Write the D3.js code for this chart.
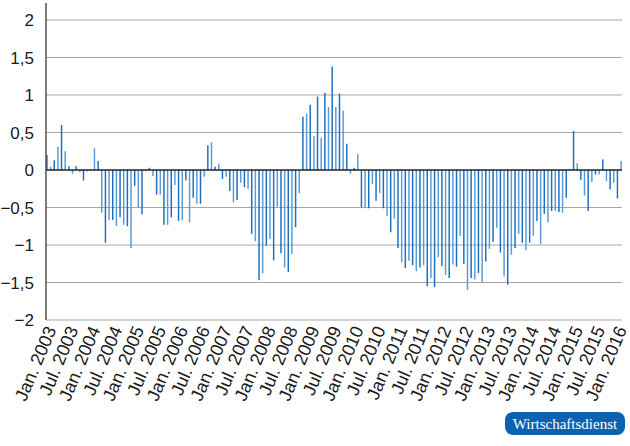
<!DOCTYPE html>
<html>
<head>
<meta charset="utf-8">
<script src="https://cdn.jsdelivr.net/npm/d3@7"></script>
<style>
  html, body { margin: 0; padding: 0; background: #fff; }
  svg { display: block; }
</style>
</head>
<body>
<svg id="chart" width="630" height="446"></svg>
<script>
// ---- data (monthly, Jan. 2003 – Feb. 2016) ----
const startMonth = new Date(2003, 0, 1);
const values = [
  // 2003
  0.20, 0.045, 0.13, 0.31, 0.60, 0.25, 0.05, -0.05, 0.05, -0.03, -0.14, -0.02,
  // 2004
  -0.01, 0.29, 0.12, -0.57, -0.97, -0.67, -0.665, -0.75, -0.63, -0.73, -0.75, -1.04,
  // 2005
  -0.21, -0.50, -0.59, 0.01, 0.03, -0.08, -0.33, -0.33, -0.73, -0.73, -0.63, -0.20,
  // 2006
  -0.68, -0.67, -0.14, -0.70, -0.37, -0.45, -0.45, -0.09, 0.33, 0.37, 0.045, 0.085,
  // 2007
  -0.12, -0.09, -0.28, -0.43, -0.40, -0.17, -0.23, -0.25, -0.85, -0.95, -1.47, -1.375,
  // 2008
  -1.01, -0.92, -1.205, -0.49, -1.11, -1.30, -1.36, -1.12, -0.76, -0.31, 0.71, 0.75,
  // 2009
  0.87, 0.45, 0.98, 0.43, 1.03, 0.84, 1.38, 0.84, 1.02, 0.79, 0.35, -0.05,
  // 2010
  0.03, 0.21, -0.50, -0.51, -0.51, -0.19, -0.41, -0.31, -0.51, -0.61, -0.83, -0.65,
  // 2011
  -1.04, -1.23, -1.31, -1.21, -1.27, -1.35, -1.30, -1.27, -1.55, -1.44, -1.56, -1.16,
  // 2012
  -1.28, -1.40, -1.44, -1.26, -1.29, -0.88, -1.25, -1.60, -1.44, -1.46, -1.375, -1.50,
  // 2013
  -1.22, -1.05, -0.96, -0.77, -1.10, -1.42, -1.53, -1.13, -1.04, -0.85, -0.97, -1.07,
  // 2014
  -0.97, -0.875, -0.68, -0.99, -0.585, -0.70, -0.545, -0.545, -0.56, -0.57, -0.37, 0.015,
  // 2015
  0.52, 0.09, -0.13, -0.34, -0.545, -0.16, -0.06, -0.06, 0.14, -0.15, -0.26, -0.17,
  // 2016
  -0.38, 0.12
];
const months = values.map((v, i) => d3.timeMonth.offset(startMonth, i));
const tickLabels = [
  "Jan. 2003","Jul. 2003","Jan. 2004","Jul. 2004","Jan. 2005","Jul. 2005",
  "Jan. 2006","Jul. 2006","Jan. 2007","Jul. 2007","Jan. 2008","Jul. 2008",
  "Jan. 2009","Jul. 2009","Jan. 2010","Jul. 2010","Jan. 2011","Jul. 2011",
  "Jan. 2012","Jul. 2012","Jan. 2013","Jul. 2013","Jan. 2014","Jul. 2014",
  "Jan. 2015","Jul. 2015","Jan. 2016"
];
const tickIndex = tickLabels.map((t, k) => k * 6);
const yTicks = [2, 1.5, 1, 0.5, 0, -0.5, -1, -1.5, -2];

// ---- layout ----
const svg = d3.select("#chart");
const mLeft = 46, mRight = 622, mTop = 20, mBottom = 320;
const font = "'Liberation Sans', Arial, Helvetica, sans-serif";

const x = d3.scaleBand()
  .domain(values.map((v, i) => i))
  .range([mLeft, mRight])
  .paddingInner(0.6)
  .paddingOuter(0.05);
const y = d3.scaleLinear().domain([-2, 2]).range([mBottom, mTop]);

// gridlines
svg.append("g").selectAll("line")
  .data(yTicks.filter(t => t !== 0))
  .join("line")
  .attr("x1", mLeft).attr("x2", mRight)
  .attr("y1", d => y(d)).attr("y2", d => y(d))
  .attr("stroke", "#a8a8a8").attr("stroke-width", 1);

// y axis labels
const fmt = d => d3.format("")(d).replace(".", ",");
svg.append("g").selectAll("text")
  .data(yTicks)
  .join("text")
  .attr("x", 34)
  .attr("y", d => y(d))
  .attr("dy", "0.36em")
  .attr("text-anchor", "end")
  .attr("font-family", font)
  .attr("font-size", 17)
  .attr("fill", "#1a1a1a")
  .text(fmt);

// bars
svg.append("g").selectAll("rect")
  .data(values)
  .join("rect")
  .attr("x", (d, i) => x(i))
  .attr("width", x.bandwidth())
  .attr("y", d => Math.min(y(d), y(0)))
  .attr("height", d => Math.abs(y(d) - y(0)))
  .attr("fill", (d, i) => i % 2 ? "#5a9ad6" : "#1b6fc0");

// zero line
svg.append("line")
  .attr("x1", mLeft).attr("x2", mRight)
  .attr("y1", y(0)).attr("y2", y(0))
  .attr("stroke", "#222").attr("stroke-width", 1.3);

// y axis line
svg.append("line")
  .attr("x1", mLeft).attr("x2", mLeft)
  .attr("y1", 3).attr("y2", mBottom)
  .attr("stroke", "#444").attr("stroke-width", 1.4);

// x labels
svg.append("g").selectAll("text")
  .data(tickLabels)
  .join("text")
  .attr("transform", (d, k) => {
    const cx = x(tickIndex[k]) + x.bandwidth() / 2;
    return `translate(${cx + 4},${mBottom + 7}) rotate(-67)`;
  })
  .attr("dy", "0.35em")
  .attr("text-anchor", "end")
  .attr("font-family", font)
  .attr("font-size", 18)
  .attr("fill", "#1a1a1a")
  .text(d => d);

// logo
const logo = svg.append("g");
logo.append("rect")
  .attr("x", 505).attr("y", 412).attr("width", 120).attr("height", 23)
  .attr("rx", 8).attr("fill", "#0d62b0");
logo.append("text")
  .attr("x", 565).attr("y", 428.5)
  .attr("text-anchor", "middle")
  .attr("font-family", "'Liberation Serif', 'DejaVu Serif', serif")
  .attr("font-size", 15)
  .attr("fill", "#fff")
  .text("Wirtschaftsdienst");
</script>
</body>
</html>
